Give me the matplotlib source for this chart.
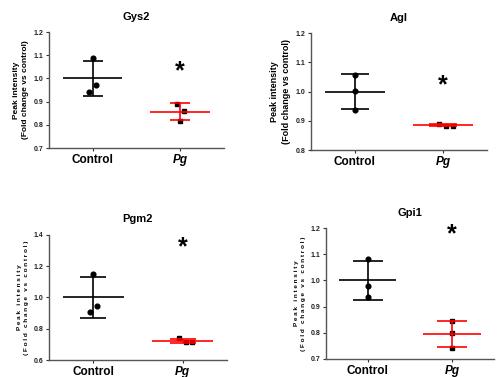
import numpy as np
import matplotlib
matplotlib.use("Agg")
import matplotlib.pyplot as plt

plt.rcParams['font.family'] = ['Liberation Sans', 'DejaVu Sans']

# data
genes = ["Gys2", "Agl", "Pgm2", "Gpi1"]
groups = ["Control", "Pg"]

ctrl_vals = {
    "Gys2": [1.088, 0.970, 0.943],
    "Agl": [1.058, 1.003, 0.938],
    "Pgm2": [1.148, 0.948, 0.905],
    "Gpi1": [1.082, 0.980, 0.935],
}
pg_vals = {
    "Gys2": [0.890, 0.862, 0.818],
    "Agl": [0.890, 0.882, 0.882],
    "Pgm2": [0.740, 0.715, 0.715],
    "Gpi1": [0.843, 0.800, 0.743],
}
ctrl_err = {"Gys2": 0.077, "Agl": 0.061, "Pgm2": 0.132, "Gpi1": 0.074}
pg_err = {"Gys2": 0.036, "Agl": 0.004, "Pgm2": 0.010, "Gpi1": 0.050}
pg_mean = {"Gys2": 0.857, "Agl": 0.885, "Pgm2": 0.722, "Gpi1": 0.795}

# small horizontal scatter offsets of the dots
ctrl_jitter = {
    "Gys2": [0.0, 0.04, -0.045],
    "Agl": [0.0, 0.0, 0.0],
    "Pgm2": [0.0, 0.04, -0.04],
    "Gpi1": [0.0, 0.0, 0.0],
}
pg_jitter = {
    "Gys2": [-0.04, 0.04, 0.0],
    "Agl": [-0.04, 0.03, 0.11],
    "Pgm2": [-0.04, 0.04, 0.11],
    "Gpi1": [0.0, 0.0, 0.0],
}

ylims = {"Gys2": (0.7, 1.2), "Agl": (0.8, 1.2), "Pgm2": (0.6, 1.4), "Gpi1": (0.7, 1.2)}
yticks = {
    "Gys2": [0.7, 0.8, 0.9, 1.0, 1.1, 1.2],
    "Agl": [0.8, 0.9, 1.0, 1.1, 1.2],
    "Pgm2": [0.6, 0.8, 1.0, 1.2, 1.4],
    "Gpi1": [0.7, 0.8, 0.9, 1.0, 1.1, 1.2],
}
star_y = {"Gys2": 1.03, "Agl": 1.02, "Pgm2": 1.32, "Gpi1": 1.175}

boxes = {
    "Gys2": [0.098, 0.607, 0.351, 0.308],
    "Agl": [0.623, 0.602, 0.353, 0.310],
    "Pgm2": [0.098, 0.045, 0.357, 0.332],
    "Gpi1": [0.653, 0.048, 0.337, 0.347],
}
capsizes = {"Gys2": 7, "Agl": 10, "Pgm2": 9.5, "Gpi1": 10.5}

fig = plt.figure(figsize=(4.99, 3.77), dpi=100)

for g in genes:
    ax = fig.add_axes(boxes[g])
    x = np.arange(len(groups))
    c = np.array(ctrl_vals[g])
    p = np.array(pg_vals[g])

    # control group: black
    ax.hlines(1.0, x[0] - 0.34, x[0] + 0.34, color='black', lw=1.2, zorder=2)
    ax.errorbar(x[0], 1.0, yerr=ctrl_err[g], fmt='none', ecolor='black',
                elinewidth=1.2, capsize=capsizes[g], capthick=1.2, zorder=2)
    ax.plot(x[0] + np.array(ctrl_jitter[g]), c, 'o', color='black', ms=3.4, zorder=3)

    # Pg group: red bars, black squares
    ax.plot(x[1] + np.array(pg_jitter[g]), p, 's', color='black', ms=3.4, zorder=1)
    ax.hlines(pg_mean[g], x[1] - 0.34, x[1] + 0.34, color='red', lw=1.2, zorder=2)
    ax.errorbar(x[1], pg_mean[g], yerr=pg_err[g], fmt='none', ecolor='red',
                elinewidth=1.2, capsize=capsizes[g], capthick=1.2, zorder=2)

    ax.text(x[1], star_y[g], '*', ha='center', va='center', fontsize=18, fontweight='bold')

    ax.set_xlim(-0.5, 1.5)
    ax.set_ylim(*ylims[g])
    ax.set_yticks(yticks[g])
    ax.set_yticklabels(['%.1f' % t for t in yticks[g]], fontsize=5, fontweight='bold')
    ax.set_xticks(x)
    ax.set_xticklabels(groups, fontsize=8.5, fontweight='bold')
    ax.get_xticklabels()[1].set_fontstyle('italic')
    ax.tick_params(axis='both', length=2.5, width=0.8, colors='#333333', pad=1.5)
    ax.tick_params(axis='x', pad=2, labelcolor='black')
    ax.tick_params(axis='y', labelcolor='#222222')
    for s in ['top', 'right']:
        ax.spines[s].set_visible(False)
    for s in ['left', 'bottom']:
        ax.spines[s].set_color('#555555')
        ax.spines[s].set_linewidth(1.0)

    ax.set_title(g, fontsize=8, fontweight='bold', pad=9)

    if g in ("Pgm2", "Gpi1"):
        l1 = ' '.join("Peak intensity")
        l2 = ' '.join("(Fold change vs control)")
        ax.set_ylabel(l1 + "\n" + l2, fontsize=4.6, fontweight='bold', labelpad=3,
                      linespacing=1.6)
    else:
        ax.set_ylabel("Peak intensity\n(Fold change vs control)", fontsize=6 if g == "Gys2" else 6.5,
                      fontweight='bold', labelpad=3, linespacing=1.4)

fig.savefig("out.png", dpi=100)
